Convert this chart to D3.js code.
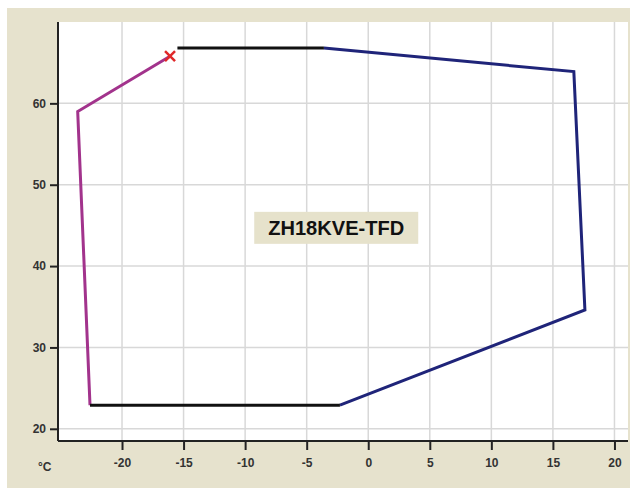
<!DOCTYPE html>
<html>
<head>
<meta charset="utf-8">
<script src="https://cdn.jsdelivr.net/npm/d3@7"></script>
<style>
body { margin: 0; background: #fff; }
text { font-family: "Liberation Sans", Arial, sans-serif; }
</style>
</head>
<body>
<script>
// envelope segments, [temp °C, value]
var topBlack = [[-15.5, 66.8], [-3.6, 66.8]];
var blueLine = [[-3.6, 66.8], [16.7, 63.9], [17.6, 34.6], [-2.3, 22.9]];
var bottomBlack = [[-2.3, 22.9], [-22.6, 22.9]];
var magentaLine = [[-22.6, 22.9], [-23.6, 59.0], [-16.1, 65.8]];
var startPoint = [-16.1, 65.8];
var xTicks = [-20, -15, -10, -5, 0, 5, 10, 15, 20];
var yTicks = [20, 30, 40, 50, 60];
var label = "ZH18KVE-TFD";

var margin, width, height;
function create_axis()
{
    margin = {top: 22, right: 2, bottom: 50, left: 58},
    width = 630 - margin.left - margin.right,
    height = 491 - margin.top - margin.bottom;
}
create_axis();

var svg = d3.select("body").append("svg")
    .attr("width", 630).attr("height", 491);

// beige panel
svg.append("rect").attr("x", 7).attr("y", 8).attr("width", 623).attr("height", 480)
    .attr("fill", "#e6e2cd");

var g = svg.append("g")
    .attr("transform", "translate(" + margin.left + "," + margin.top + ")");

var x = d3.scaleLinear().domain([-25.2, 21.1]).range([0, width]);
var y = d3.scaleLinear().domain([18.5, 70]).range([height, 0]);

g.append("rect").attr("width", width).attr("height", height).attr("fill", "#fff");

// grid
g.selectAll(".vgrid").data(xTicks).enter().append("line")
    .attr("x1", d => x(d)).attr("x2", d => x(d))
    .attr("y1", 0).attr("y2", height)
    .attr("stroke", "#d8d8d8").attr("stroke-width", 1.5);
g.selectAll(".hgrid").data(yTicks).enter().append("line")
    .attr("x1", 0).attr("x2", width)
    .attr("y1", d => y(d)).attr("y2", d => y(d))
    .attr("stroke", "#d8d8d8").attr("stroke-width", 1.5);

// axes
var xAxis = d3.axisBottom(x).tickValues(xTicks).tickSize(9).tickPadding(8)
    .tickFormat(d => String(d));
var yAxis = d3.axisLeft(y).tickValues(yTicks).tickSize(8).tickPadding(4)
    .tickFormat(d => String(d));

var xg = g.append("g").attr("transform", "translate(0," + height + ")").call(xAxis);
var yg = g.append("g").call(yAxis);
[xg, yg].forEach(function(a) {
    a.select(".domain").attr("stroke", "#222").attr("stroke-width", 2);
    a.selectAll(".tick line").attr("stroke", "#222").attr("stroke-width", 2);
    a.selectAll("text").attr("fill", "#333").attr("font-size", 12).attr("font-weight", "bold");
});
xg.select(".domain").attr("d", "M0,0H" + width);
yg.select(".domain").attr("d", "M0,0V" + height);

g.append("text").attr("x", -20).attr("y", height + 30)
    .attr("font-size", 12).attr("font-weight", "bold").attr("fill", "#333")
    .text("°C");

var line = d3.line().x(d => x(d[0])).y(d => y(d[1]));

g.append("path").datum(blueLine).attr("d", line)
    .attr("fill", "none").attr("stroke", "#1f2479").attr("stroke-width", 3);
g.append("path").datum(magentaLine).attr("d", line)
    .attr("fill", "none").attr("stroke", "#a2338c").attr("stroke-width", 3);
g.append("path").datum(topBlack).attr("d", line)
    .attr("fill", "none").attr("stroke", "#111").attr("stroke-width", 3);
g.append("path").datum(bottomBlack).attr("d", line)
    .attr("fill", "none").attr("stroke", "#111").attr("stroke-width", 3);

// start marker
var sx = x(startPoint[0]), sy = y(startPoint[1]);
g.append("path")
    .attr("d", "M" + (sx - 5) + "," + (sy - 5) + "L" + (sx + 5) + "," + (sy + 5) +
        "M" + (sx + 5) + "," + (sy - 5) + "L" + (sx - 5) + "," + (sy + 5))
    .attr("stroke", "#e0282a").attr("stroke-width", 2.5);

// label box
var lx = x(-2.6), ly = y(44.7);
g.append("rect").attr("x", lx - 82).attr("y", ly - 16).attr("width", 164).attr("height", 32)
    .attr("fill", "#e6e2cb");
g.append("text").attr("x", lx).attr("y", ly + 7).attr("text-anchor", "middle")
    .attr("font-size", 20).attr("font-weight", "bold").attr("fill", "#111")
    .attr("textLength", 136).attr("lengthAdjust", "spacingAndGlyphs")
    .text(label);
</script>
</body>
</html>
